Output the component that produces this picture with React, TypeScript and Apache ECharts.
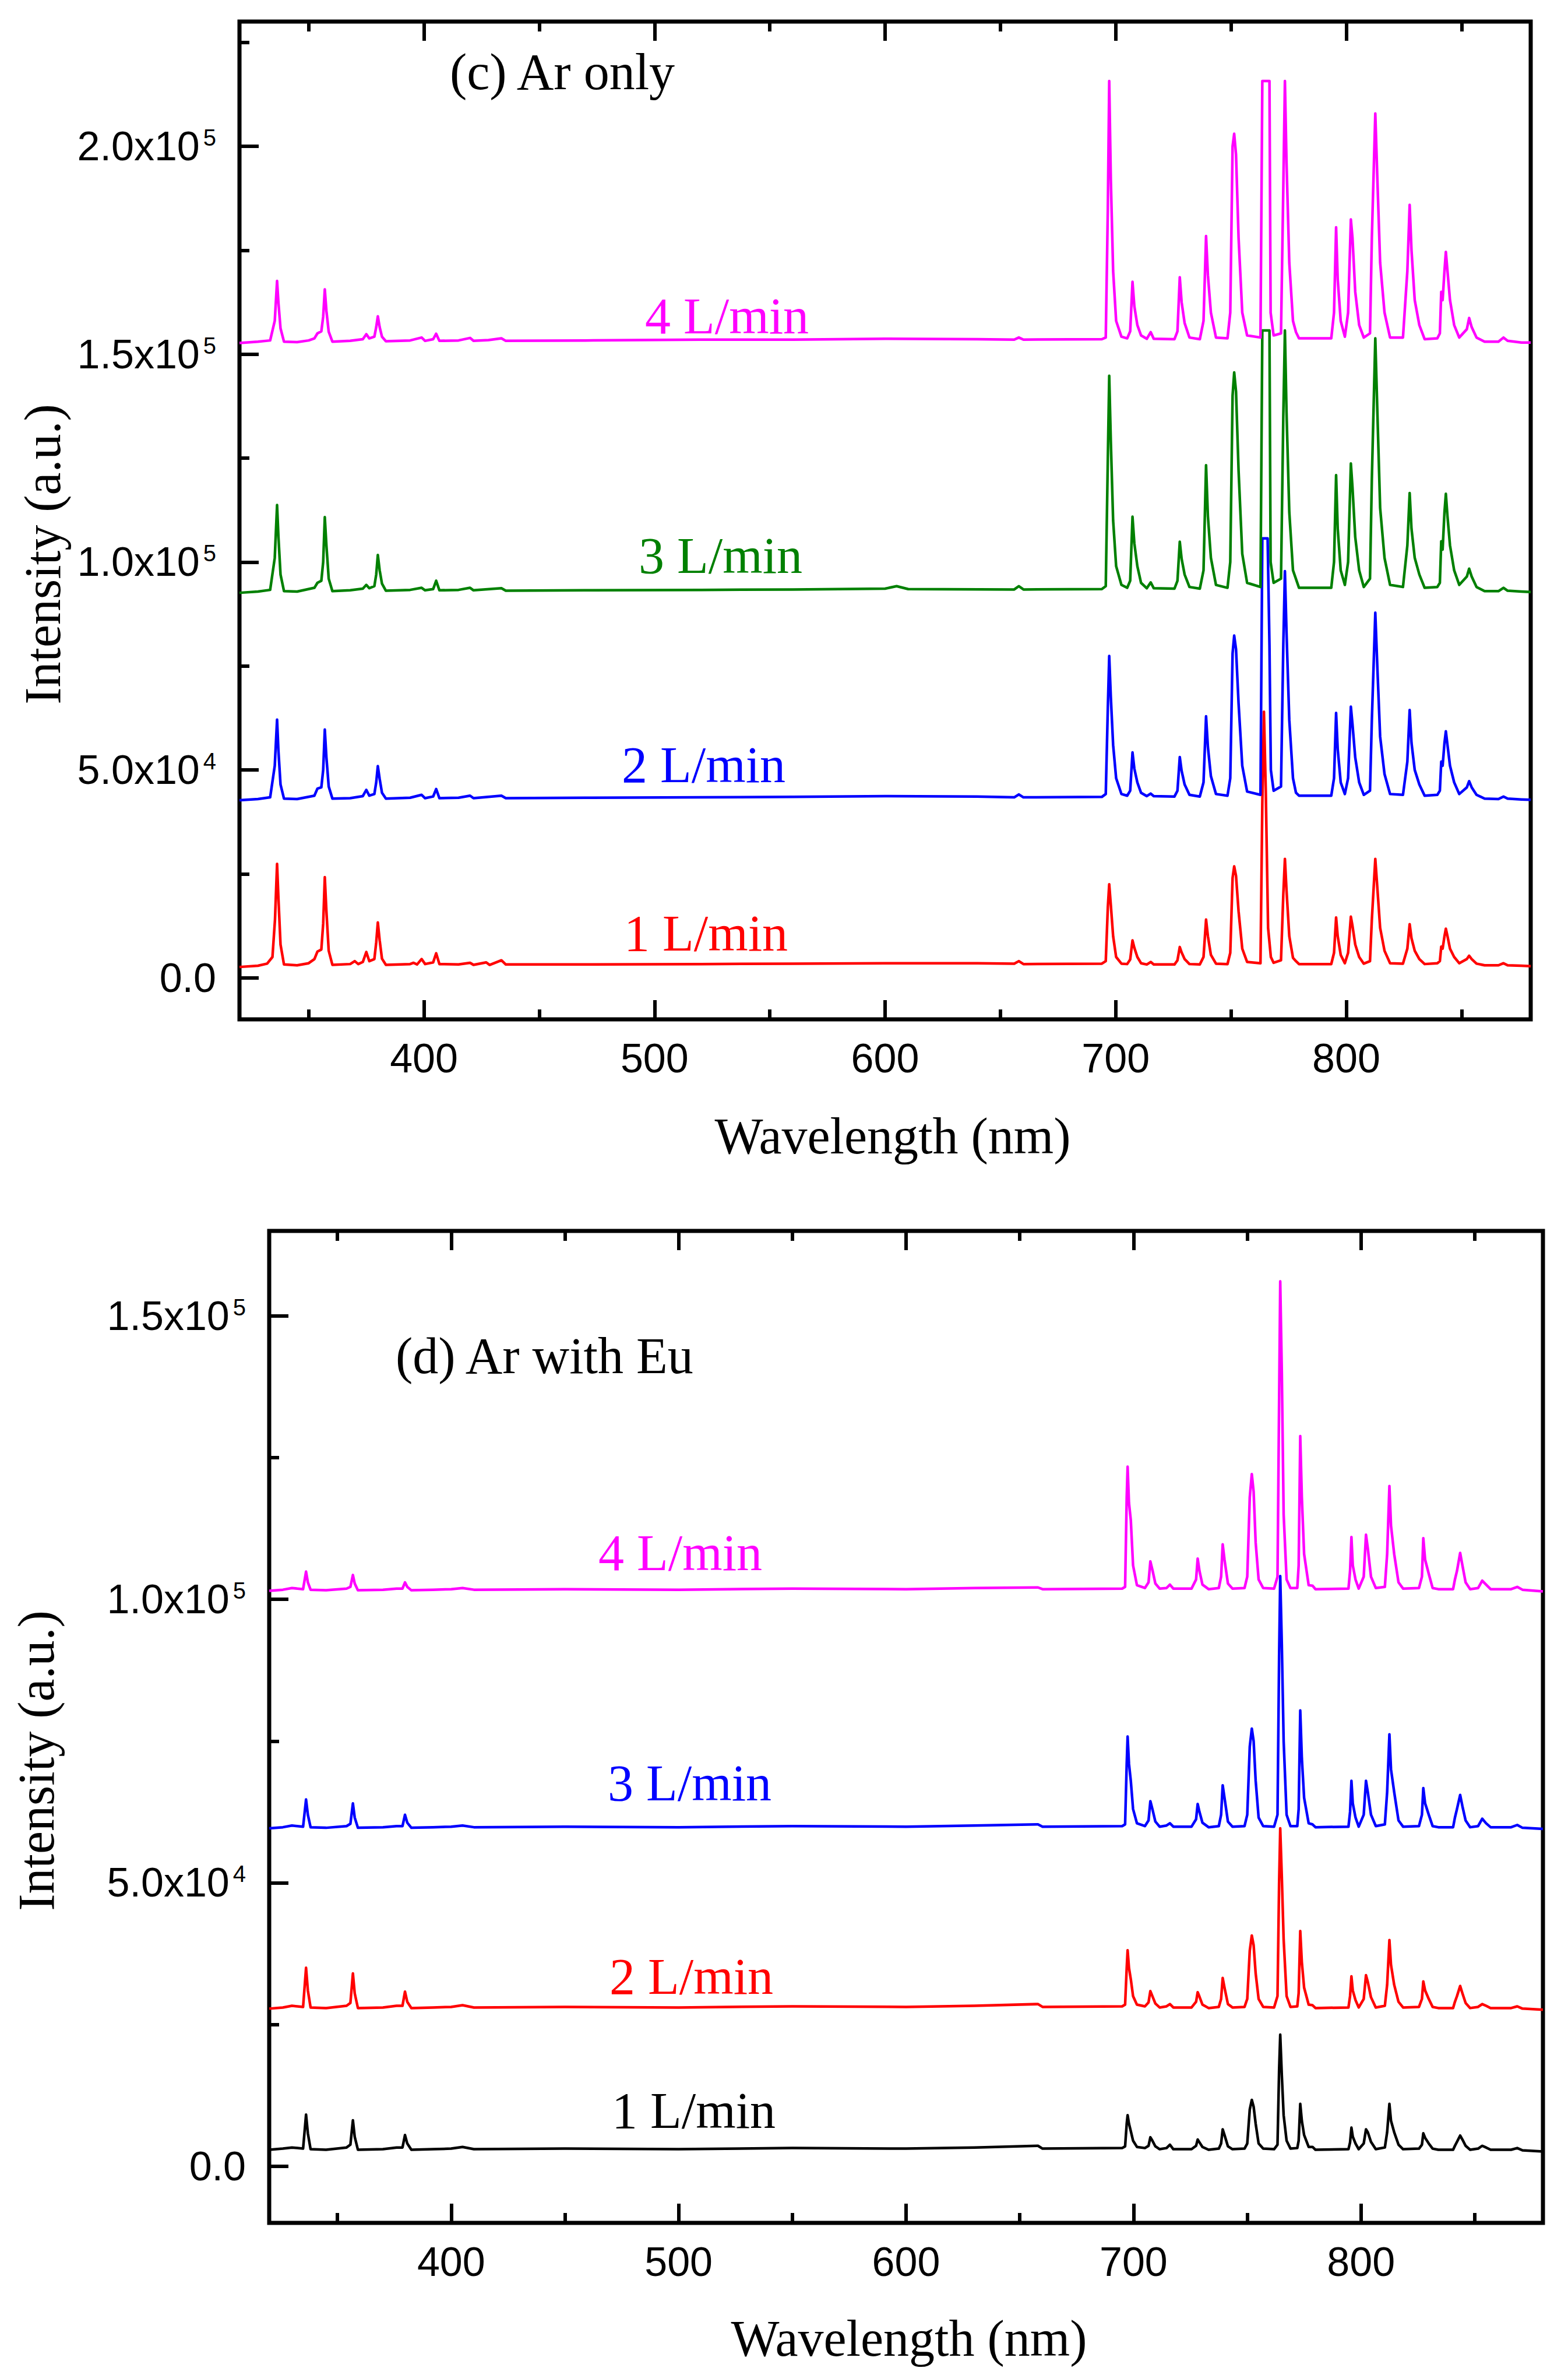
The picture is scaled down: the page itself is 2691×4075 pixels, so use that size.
import { useEffect, useRef } from "react";
import * as echarts from "echarts";

const SANS = "Liberation Sans";
const SERIF = "Liberation Serif";

const xMajorTicks = [400, 500, 600, 700, 800];
const xMinorTicks = [350, 400, 450, 500, 550, 600, 650, 700, 750, 800, 850];
const arOnlyYMajor = [0, 50000, 100000, 150000, 200000];
const arOnlyYMinor = [0, 25000, 50000, 75000, 100000, 125000, 150000, 175000, 200000, 225000];
const arEuYMajor = [0, 50000, 100000, 150000];
const arEuYMinor = [0, 25000, 50000, 75000, 100000, 125000, 150000];

// (c) Ar only — [wavelength nm, intensity]
const arOnly4 = [
  [320, 152700], [328, 153000], [333.3, 153300], [335.3, 158000], [336.3, 167600], [336.9, 162300], [337.8, 156200], [339.3, 153000],
  [345, 152900], [350, 153300], [352.5, 153800], [353.8, 155000], [355.5, 155500], [356.3, 159000], [357, 165600], [357.7, 160400],
  [358.7, 155400], [360.3, 153000], [368, 153200], [373.5, 153600], [375, 154800], [376.3, 153800], [378.5, 154200], [379.3, 156500],
  [380, 159100], [380.8, 156500], [381.8, 154200], [383.5, 153100], [394, 153300], [399, 154000], [400.5, 153200],
  [404, 153600], [405.3, 154900], [406.7, 153200], [415, 153300], [420, 153900], [421.5, 153200], [428, 153400],
  [433.6, 153800], [435.5, 153200], [470, 153300], [520, 153500], [560, 153500], [600, 153700], [640, 153600],
  [656, 153500], [658, 154000], [660, 153500], [694, 153600],
  [695.7, 154000], [696.6, 185000], [697.2, 215700], [697.9, 192000], [698.9, 170000], [700.2, 158000], [702.5, 154200], [705, 153800],
  [706.3, 155500], [707.3, 167400], [708.1, 161500], [709.4, 157000], [711, 154500], [713.5, 153700], [715.2, 155300], [716.5, 153700], [725.5, 153600],
  [726.8, 155500], [727.8, 168500], [728.6, 162500], [729.9, 157500], [732, 154000], [736.5, 153600],
  [738.1, 158000], [739.2, 178400], [740, 169000], [741.3, 160000], [743.5, 154000], [748.5, 153800],
  [749.7, 160000], [750.7, 200000], [751.4, 203000], [752.2, 198000], [753.3, 178000], [754.9, 160000], [757, 154500], [762.8, 154000],
  [763.6, 215700], [766.7, 215700], [767.2, 160000], [768.5, 154500], [771.7, 155000],
  [772.7, 190000], [773.4, 215700], [774.1, 196000], [775.3, 172000], [776.9, 158000], [778.2, 155300], [779.5, 153800], [793.5, 153800],
  [794.7, 160000], [795.6, 180500], [796.3, 168000], [797.6, 158000], [799.4, 154200],
  [800.8, 160000], [802, 182400], [802.7, 178000], [803.9, 165000], [805.6, 157000], [807.6, 154000], [810.3, 155000],
  [811.1, 178000], [812.6, 207900], [813.5, 192000], [814.7, 172000], [816.6, 160000], [819, 154000], [824.6, 154000],
  [826.5, 170000], [827.5, 185900], [828.3, 175000], [829.7, 163000], [831.7, 157000], [834, 153600], [839.5, 153800],
  [840.6, 155000], [841.2, 165000], [841.8, 163000], [842.6, 170000], [843.2, 174600], [843.9, 170000], [845, 163000], [846.8, 157000], [849, 154000],
  [852.3, 156000], [853.3, 158700], [854.4, 156500], [856.5, 154000], [860, 153000], [866, 153000], [868.2, 154000], [870, 153200], [876, 152800], [880, 152800],
];

const arOnly3 = [
  [320, 92600], [328, 92900], [333.3, 93300], [335.3, 101000], [336.3, 113700], [336.9, 106000], [337.8, 97000], [339.3, 93000],
  [345, 92900], [352.5, 93800], [353.8, 95000], [355.5, 95500], [356.3, 100000], [357, 110800], [357.7, 104000], [358.7, 96000],
  [360.3, 93000], [368, 93200], [373.5, 93600], [375, 94500], [376.3, 93700], [378.5, 94200], [379.3, 97000], [380, 101700],
  [380.8, 98000], [381.8, 94800], [383.5, 93100], [394, 93300], [399, 93800], [400.5, 93200], [404, 93500],
  [405.3, 95500], [406.7, 93200], [415, 93300], [420, 93800], [421.5, 93200], [433.6, 93700], [435.5, 93100],
  [470, 93200], [520, 93300], [560, 93400], [600, 93600], [605, 94200], [610, 93500], [656, 93400], [658, 94200],
  [660, 93400], [694, 93500],
  [695.7, 94200], [696.6, 125000], [697.2, 144800], [697.9, 129000], [698.9, 110000], [700.2, 99000], [702.5, 94500], [705, 93800],
  [706.3, 95500], [707.3, 110900], [708.1, 104500], [709.4, 99000], [711, 95000], [713.5, 93700], [715.2, 95100], [716.5, 93700], [725.5, 93600],
  [726.8, 95500], [727.8, 104900], [728.6, 100800], [729.9, 97000], [732, 94000], [736.5, 93600],
  [738.1, 98000], [739.2, 123300], [740, 111000], [741.3, 101000], [743.5, 94500], [748.5, 93800],
  [749.7, 100000], [750.7, 140000], [751.4, 145600], [752.2, 141000], [753.3, 122000], [754.9, 102000], [757, 95000], [762.8, 94000],
  [763.6, 155700], [766.7, 155700], [767.2, 100000], [768.5, 95000], [771.7, 96000],
  [772.7, 135000], [773.4, 155700], [774.1, 136000], [775.3, 112000], [776.9, 98000], [778.2, 95900], [779.5, 93800], [793.5, 93800],
  [794.7, 100000], [795.6, 120900], [796.3, 108000], [797.6, 98000], [799.4, 94500],
  [800.8, 100000], [802, 123700], [802.7, 118000], [803.9, 106000], [805.6, 98000], [807.6, 94000], [810.3, 96000],
  [811.1, 120000], [812.6, 153800], [813.5, 136000], [814.7, 113000], [816.6, 101000], [819, 94500], [824.6, 94000],
  [826.5, 104000], [827.5, 116600], [828.3, 108000], [829.7, 101000], [831.7, 97000], [834, 93800], [839.5, 94000],
  [840.6, 95000], [841.2, 105000], [841.8, 103000], [842.6, 112000], [843.2, 116400], [843.9, 111000], [845, 104000], [846.8, 98000], [849, 94500],
  [852.3, 96500], [853.3, 98400], [854.4, 96500], [856.5, 94000], [860, 93000], [866, 93000], [868.2, 93800], [870, 93100], [876, 92900], [880, 92800],
];

const arOnly2 = [
  [320, 42700], [328, 43000], [333.3, 43400], [335.3, 51000], [336.3, 62100], [336.9, 54500], [337.8, 46500], [339.3, 43100],
  [345, 43000], [352.5, 43800], [353.8, 45500], [355.5, 45800], [356.3, 50000], [357, 59700], [357.7, 53000], [358.7, 46000],
  [360.3, 43100], [368, 43200], [373.5, 43700], [375, 45200], [376.3, 43800], [378.5, 44200], [379.3, 47000], [380, 50900],
  [380.8, 47800], [381.8, 44500], [383.5, 43100], [394, 43300], [399, 44000], [400.5, 43200], [404, 43600],
  [405.3, 45400], [406.7, 43200], [415, 43300], [420, 43800], [421.5, 43200], [433.6, 43800], [435.5, 43200],
  [470, 43300], [520, 43400], [560, 43500], [600, 43700], [640, 43600], [656, 43400], [658, 44100], [660, 43400], [694, 43500],
  [695.7, 44200], [696.6, 65000], [697.2, 77400], [697.9, 67500], [698.9, 56000], [700.2, 48000], [702.5, 44200], [705, 43800],
  [706.3, 45000], [707.3, 54200], [708.1, 50300], [709.4, 47000], [711, 44500], [713.5, 43700], [715.2, 44300], [716.5, 43700], [725.5, 43600],
  [726.8, 45000], [727.8, 53100], [728.6, 49800], [729.9, 46500], [732, 44000], [736.5, 43600],
  [738.1, 47000], [739.2, 62900], [740, 55500], [741.3, 48500], [743.5, 44200], [748.5, 43800],
  [749.7, 48000], [750.7, 78000], [751.4, 82300], [752.2, 79000], [753.3, 66000], [754.9, 51000], [757, 44800], [762.8, 44000],
  [763.6, 105700], [765.9, 105700], [766.7, 80000], [767.3, 50000], [768.5, 45000], [771.7, 46000],
  [772.7, 80000], [773.4, 97800], [774.1, 83000], [775.3, 62000], [776.9, 48000], [778.2, 44500], [779.5, 43800], [793.5, 43800],
  [794.7, 48000], [795.6, 63700], [796.3, 55000], [797.6, 47000], [799.4, 44200],
  [800.8, 48000], [802, 65200], [802.7, 61000], [803.9, 53000], [805.6, 47000], [807.6, 44000], [810.3, 45000],
  [811.1, 62000], [812.6, 87800], [813.5, 74500], [814.7, 58000], [816.6, 49000], [819, 44200], [824.6, 44000],
  [826.5, 52000], [827.5, 64400], [828.3, 56500], [829.7, 50000], [831.7, 46500], [834, 43800], [839.5, 44000],
  [840.6, 45000], [841.2, 52000], [841.8, 51000], [842.6, 56500], [843.2, 59300], [843.9, 56000], [845, 51000], [846.8, 47000], [849, 44200],
  [852.3, 45800], [853.3, 47300], [854.4, 45800], [856.5, 44000], [860, 43100], [866, 43000], [868.2, 43600], [870, 43100], [876, 42900], [880, 42800],
];

const arOnly1 = [
  [320, 2600], [328, 2900], [332, 3400], [334.3, 5000], [335.4, 14000], [336.3, 27400], [336.9, 19000], [337.8, 8000], [339.3, 3200], [345, 3000],
  [350, 3500], [352.5, 4500], [353.8, 6300], [355.5, 6800], [356.3, 13000], [357, 24200], [357.7, 16000], [358.7, 6500], [360.3, 3100],
  [368, 3300], [370, 4000], [371.5, 3300], [373.5, 3800], [375, 6200], [376.3, 4000], [378.5, 4500], [379.3, 8500], [380, 13300],
  [380.8, 9000], [381.8, 4600], [383.5, 3100], [394, 3300], [395.5, 3600], [397, 3200], [399, 4500], [400.5, 3300],
  [404, 3700], [405.3, 5900], [406.7, 3300], [415, 3200], [420, 3600], [421.5, 3100], [427, 3700], [428.5, 3100],
  [433.6, 4200], [435.5, 3200], [470, 3200], [520, 3300], [560, 3400], [600, 3500], [640, 3500], [656, 3400],
  [658, 4000], [660, 3300], [694, 3400],
  [695.7, 4000], [696.6, 17000], [697.2, 22500], [697.9, 17500], [698.9, 10000], [700.2, 5000], [702.5, 3400], [705, 3300],
  [706.3, 4400], [707.3, 9000], [708.1, 7200], [709.4, 5000], [711, 3500], [713.5, 3200], [715.2, 3800], [716.5, 3200], [725.5, 3200],
  [726.8, 4200], [727.8, 7400], [728.6, 6100], [729.9, 4500], [732, 3300], [736.5, 3200],
  [738.1, 5000], [739.2, 14000], [740, 10000], [741.3, 5500], [743.5, 3400], [748.5, 3300],
  [749.7, 6000], [750.7, 24000], [751.4, 26800], [752.2, 24500], [753.3, 16000], [754.9, 7000], [757, 3800], [762.8, 3500],
  [763.6, 42000], [764.3, 64000], [765.1, 45000], [766.1, 12000], [767.3, 5000], [768.5, 3600], [771.7, 4200],
  [772.7, 20000], [773.4, 28600], [774.1, 21000], [775.3, 10000], [776.9, 4800], [778.2, 4000], [779.5, 3300], [793.5, 3300],
  [794.7, 6000], [795.6, 14500], [796.3, 10000], [797.6, 5500], [799.4, 3500],
  [800.8, 6000], [802, 14700], [802.7, 12500], [803.9, 8000], [805.6, 5000], [807.6, 3400], [810.3, 4000],
  [811.1, 14000], [812.6, 28600], [813.5, 21500], [814.7, 12000], [816.6, 6500], [819, 3500], [824.6, 3400],
  [826.5, 7000], [827.5, 12900], [828.3, 9500], [829.7, 6500], [831.7, 4500], [834, 3300], [839.5, 3500],
  [840.6, 4000], [841.2, 7500], [841.8, 7000], [842.6, 10000], [843.2, 11800], [843.9, 10000], [845, 7000], [846.8, 5000], [849, 3500],
  [852.3, 4500], [853.3, 5300], [854.4, 4500], [856.5, 3400], [860, 3000], [866, 3000], [868.2, 3500], [870, 3000], [876, 2900], [880, 2800],
];

// (d) Ar with Eu
const arEu4 = [
  [320, 101500], [326, 101700], [330, 102000], [334.9, 101800], [336.2, 104900], [337, 103000], [338.2, 101700],
  [345, 101600], [354, 101900], [355.7, 102200], [356.8, 104300], [357.6, 102800], [359, 101600], [370, 101700],
  [376, 101900], [378.6, 101900], [379.7, 103000], [380.7, 102200], [382.5, 101600], [392, 101700], [400, 101800],
  [405, 102000], [410, 101700], [450, 101800], [500, 101700], [550, 101900], [600, 101800], [630, 102000],
  [658, 102100], [660, 101800], [695, 101900],
  [696.3, 102200], [697, 118000], [697.4, 123400], [698, 117000], [698.8, 114000], [699.8, 106000], [701.5, 102500], [705, 102000],
  [706.6, 103000], [707.4, 106700], [708.3, 105200], [709.6, 102800], [711.5, 101900], [714.5, 102000], [716, 102600], [717.5, 101900], [725.5, 101900],
  [727.5, 103500], [728.2, 107200], [729, 105000], [730.3, 102600], [733, 101800], [737.5, 102000],
  [738.5, 104000], [739.2, 109700], [740, 107000], [741.5, 102800], [743.5, 101900], [748.8, 102000],
  [750, 104000], [751.1, 118000], [752, 122100], [752.8, 119000], [753.7, 110000], [755, 103500], [757, 102000], [761.8, 101900],
  [763.3, 104000], [764, 135000], [764.5, 156100], [765.2, 140000], [766, 115000], [767.3, 103500], [769, 102000], [772, 102000],
  [772.6, 106000], [773.3, 128800], [774, 118000], [775, 108000], [777, 102500], [778.7, 102400], [780, 101800], [794.5, 101900],
  [795.2, 105000], [795.8, 111000], [796.4, 106000], [797.6, 103500], [799, 101900],
  [801.2, 104000], [802.2, 111400], [803, 109000], [804.4, 104000], [806.5, 102000], [810.5, 102200],
  [811.5, 108000], [812.5, 120000], [813.2, 113000], [814.6, 108000], [816.5, 103000], [818.5, 101900], [825.5, 102000],
  [826.8, 104000], [827.4, 110800], [828.2, 107000], [829.8, 104500], [831.5, 102000], [834, 101800], [840.5, 101800],
  [841.3, 103500], [842.2, 105000], [843.6, 108200], [844.6, 106000], [846, 103000], [848, 101800], [851.5, 102000],
  [853.3, 103300], [855, 102600], [857, 101800], [866, 101800], [868.7, 102200], [871, 101700], [880, 101400],
];

const arEu3 = [
  [320, 59600], [326, 59800], [330, 60100], [334.9, 59900], [336.2, 64700], [337, 62000], [338.2, 59800],
  [345, 59700], [354, 60000], [355.7, 60400], [356.8, 64000], [357.6, 61500], [359, 59700], [370, 59800],
  [376, 60000], [378.6, 60000], [379.7, 62000], [380.7, 60600], [382.5, 59700], [392, 59800], [400, 59900],
  [405, 60100], [410, 59800], [450, 59900], [500, 59800], [550, 60000], [600, 59900], [630, 60100],
  [658, 60300], [660, 59900], [695, 60000],
  [696.3, 60300], [697, 71000], [697.4, 75800], [698, 71000], [698.8, 68000], [699.8, 63000], [701.5, 60500], [705, 60000],
  [706.6, 61000], [707.4, 64400], [708.3, 63000], [709.6, 60800], [711.5, 59900], [714.5, 60100], [716, 60500], [717.5, 59900], [725.5, 59900],
  [727.5, 61200], [728.2, 63900], [729, 62500], [730.3, 60600], [733, 59800], [737.5, 60000],
  [738.5, 62000], [739.2, 67200], [740, 65000], [741.5, 60800], [743.5, 59900], [748.8, 60000],
  [750, 62000], [751.1, 74000], [752, 77200], [752.8, 75000], [753.7, 68000], [755, 61500], [757, 60000], [761.8, 59900],
  [763.3, 62000], [764, 90000], [764.5, 104100], [765.2, 92000], [766, 75000], [767.3, 62000], [769, 60000], [772, 60000],
  [772.6, 63000], [773.3, 80400], [774, 72000], [775, 65000], [777, 60500], [778.7, 60300], [780, 59800], [794.5, 59900],
  [795.2, 62500], [795.8, 68000], [796.4, 64000], [797.6, 61500], [799, 59900],
  [801.2, 62000], [802.2, 68000], [803, 66000], [804.4, 62000], [806.5, 60000], [810.5, 60300],
  [811.5, 66000], [812.5, 76200], [813.2, 70000], [814.6, 66000], [816.5, 61000], [818.5, 59900], [825.5, 60000],
  [826.8, 62000], [827.4, 66700], [828.2, 64000], [829.8, 62000], [831.5, 60000], [834, 59800], [840.5, 59800],
  [841.3, 61500], [842.2, 63000], [843.6, 65500], [844.6, 63500], [846, 61000], [848, 59800], [851.5, 60000],
  [853.3, 61300], [855, 60500], [857, 59800], [866, 59800], [868.7, 60200], [871, 59700], [880, 59500],
];

const arEu2 = [
  [320, 27800], [326, 28000], [330, 28300], [334.9, 28100], [336.2, 35000], [337, 31000], [338.2, 28000],
  [345, 27900], [354, 28300], [355.7, 28800], [356.8, 34000], [357.6, 30500], [359, 27900], [370, 28000],
  [376, 28300], [378.6, 28300], [379.7, 30800], [380.7, 29000], [382.5, 27900], [392, 28000], [400, 28100],
  [405, 28400], [410, 28000], [450, 28100], [500, 28000], [550, 28200], [600, 28100], [630, 28300],
  [658, 28600], [660, 28100], [695, 28200],
  [696.3, 28500], [697, 35000], [697.4, 38100], [698, 35000], [698.8, 33000], [699.8, 30000], [701.5, 28500], [705, 28200],
  [706.6, 28900], [707.4, 30900], [708.3, 30000], [709.6, 28700], [711.5, 28000], [714.5, 28200], [716, 28600], [717.5, 28000], [725.5, 28000],
  [727.5, 29000], [728.2, 30700], [729, 29900], [730.3, 28500], [733, 27900], [737.5, 28100],
  [738.5, 29500], [739.2, 33200], [740, 31500], [741.5, 28600], [743.5, 28000], [748.8, 28100],
  [750, 29500], [751.1, 38000], [752, 40700], [752.8, 39000], [753.7, 34000], [755, 29500], [757, 28100], [761.8, 28000],
  [763.3, 30000], [764, 50000], [764.5, 59600], [765.2, 51000], [766, 40000], [767.3, 30000], [769, 28100], [772, 28200],
  [772.6, 30500], [773.3, 41500], [774, 36000], [775, 31500], [777, 28500], [778.7, 28400], [780, 27900], [794.5, 28000],
  [795.2, 30000], [795.8, 33500], [796.4, 31000], [797.6, 29300], [799, 28000],
  [801.2, 29500], [802.2, 33700], [803, 32500], [804.4, 29800], [806.5, 28000], [810.5, 28300],
  [811.5, 32000], [812.5, 39900], [813.2, 35500], [814.6, 32000], [816.5, 29000], [818.5, 28000], [825.5, 28100],
  [826.8, 29500], [827.4, 32600], [828.2, 31000], [829.8, 29500], [831.5, 28100], [834, 27900], [840.5, 27900],
  [841.3, 29000], [842.2, 30000], [843.6, 31800], [844.6, 30500], [846, 28800], [848, 27900], [851.5, 28100],
  [853.3, 28600], [855, 28300], [857, 27900], [866, 27900], [868.7, 28200], [871, 27800], [880, 27600],
];

const arEu1 = [
  [320, 2900], [326, 3100], [330, 3300], [334.9, 3100], [336.2, 9100], [337, 5800], [338.2, 3000],
  [345, 2900], [354, 3300], [355.7, 3800], [356.8, 8100], [357.6, 5200], [359, 2900], [370, 3000],
  [376, 3300], [378.6, 3300], [379.7, 5500], [380.7, 4000], [382.5, 2900], [392, 3000], [400, 3100],
  [405, 3400], [410, 3000], [450, 3100], [500, 3000], [550, 3200], [600, 3100], [630, 3300],
  [658, 3600], [660, 3100], [695, 3200],
  [696.3, 3500], [697, 7500], [697.4, 9000], [698, 7500], [698.8, 6200], [699.8, 4500], [701.5, 3400], [705, 3200],
  [706.6, 3600], [707.4, 5100], [708.3, 4500], [709.6, 3500], [711.5, 3000], [714.5, 3200], [716, 3800], [717.5, 3000], [725.5, 3000],
  [727.5, 3600], [728.2, 4700], [729, 4200], [730.3, 3400], [733, 2900], [737.5, 3100],
  [738.5, 4000], [739.2, 6500], [740, 5500], [741.5, 3500], [743.5, 3000], [748.8, 3100],
  [750, 4000], [751.1, 10000], [752, 11700], [752.8, 10500], [753.7, 7500], [755, 4000], [757, 3100], [761.8, 3000],
  [763.3, 3800], [764, 17000], [764.5, 23200], [765.2, 16000], [766, 9000], [767.3, 4500], [769, 3100], [772, 3200],
  [772.6, 4500], [773.3, 11000], [774, 8000], [775, 5500], [777, 3400], [778.7, 3400], [780, 2900], [794.5, 3000],
  [795.2, 4200], [795.8, 6800], [796.4, 5200], [797.6, 4000], [799, 3000],
  [801.2, 4000], [802.2, 6500], [803, 6000], [804.4, 4300], [806.5, 3000], [810.5, 3300],
  [811.5, 6000], [812.5, 11000], [813.2, 8000], [814.6, 6000], [816.5, 3800], [818.5, 3000], [825.5, 3100],
  [826.8, 3800], [827.4, 5800], [828.2, 5000], [829.8, 4000], [831.5, 3100], [834, 2900], [840.5, 2900],
  [841.3, 3600], [842.2, 4300], [843.6, 5400], [844.6, 4700], [846, 3600], [848, 2900], [851.5, 3100],
  [853.3, 3600], [855, 3300], [857, 2900], [866, 2900], [868.7, 3200], [871, 2800], [880, 2600],
];

const seriesLabels = ["1 L/min", "2 L/min", "3 L/min", "4 L/min"];

function sciLabel(v: number) {
  if (v === 0) return "{m|0.0}";
  const e = Math.floor(Math.log10(v) + 1e-9);
  const m = (v / Math.pow(10, e)).toFixed(1);
  return `{m|${m}x10}{s|${e}}`;
}

const tickStyle = { color: "#000", width: 6 };

function xAxes(gridIndex: number) {
  const base = {
    type: "value",
    gridIndex,
    min: 320,
    max: 880,
    splitLine: { show: false },
    axisLine: { show: false, onZero: false },
  };
  const major = { inside: true, length: 33, customValues: xMajorTicks, lineStyle: tickStyle };
  const minor = { inside: true, length: 17, customValues: xMinorTicks, lineStyle: tickStyle };
  return [
    {
      ...base,
      position: "bottom",
      axisTick: major,
      axisLabel: { customValues: xMajorTicks, margin: 32, fontSize: 70, fontFamily: SANS, color: "#000" },
    },
    { ...base, position: "bottom", axisTick: minor, axisLabel: { show: false } },
    { ...base, position: "top", axisTick: major, axisLabel: { show: false } },
    { ...base, position: "top", axisTick: minor, axisLabel: { show: false } },
  ];
}

function yAxes(gridIndex: number, max: number, majorVals: number[], minorVals: number[]) {
  const base = {
    type: "value",
    gridIndex,
    min: -10000,
    max,
    position: "left",
    splitLine: { show: false },
    axisLine: { show: false, onZero: false },
  };
  return [
    {
      ...base,
      axisTick: { inside: true, length: 33, customValues: majorVals, lineStyle: tickStyle },
      axisLabel: {
        customValues: majorVals,
        margin: 40,
        formatter: sciLabel,
        rich: {
          m: { fontSize: 70, fontFamily: SANS, color: "#000" },
          s: { fontSize: 40, fontFamily: SANS, color: "#000", verticalAlign: "top", lineHeight: 20, padding: [0, 0, 0, 6] },
        },
      },
    },
    {
      ...base,
      axisTick: { inside: true, length: 17, customValues: minorVals, lineStyle: tickStyle },
      axisLabel: { show: false },
    },
  ];
}

function line(name: string, data: number[][], color: string, xi: number, yi: number, width: number) {
  return {
    name,
    type: "line",
    data,
    xAxisIndex: xi,
    yAxisIndex: yi,
    showSymbol: false,
    symbol: "none",
    lineStyle: { color, width, join: "round" },
    itemStyle: { color },
  };
}

function text(t: string, x: number, y: number, color: string, align = "left", rotation = 0) {
  return {
    type: "text",
    x,
    y,
    rotation,
    z: 100,
    style: {
      text: t,
      fill: color,
      font: `88px "${SERIF}"`,
      align,
      verticalAlign: "middle",
      textAlign: align,
      textVerticalAlign: "middle",
    },
  };
}

function buildOption(): echarts.EChartsOption {
  return {
    animation: false,
    backgroundColor: "#fff",
    grid: [
      { left: 411, top: 37, width: 2216, height: 1712, show: true, borderColor: "#000", borderWidth: 7, containLabel: false },
      { left: 462, top: 2112, width: 2186, height: 1702, show: true, borderColor: "#000", borderWidth: 7, containLabel: false },
    ],
    xAxis: [...xAxes(0), ...xAxes(1)] as any,
    yAxis: [
      ...yAxes(0, 230000, arOnlyYMajor, arOnlyYMinor),
      ...yAxes(1, 165000, arEuYMajor, arEuYMinor),
    ] as any,
    series: [
      line(seriesLabels[0], arOnly1, "#FF0000", 0, 0, 4.5),
      line(seriesLabels[1], arOnly2, "#0000FF", 0, 0, 4.5),
      line(seriesLabels[2], arOnly3, "#008000", 0, 0, 4.5),
      line(seriesLabels[3], arOnly4, "#FF00FF", 0, 0, 4.5),
      line(seriesLabels[0], arEu1, "#000000", 4, 2, 4.5),
      line(seriesLabels[1], arEu2, "#FF0000", 4, 2, 4.5),
      line(seriesLabels[2], arEu3, "#0000FF", 4, 2, 4.5),
      line(seriesLabels[3], arEu4, "#FF00FF", 4, 2, 4.5),
    ] as any,
    graphic: [
      text("(c) Ar only", 772, 123, "#000"),
      text(seriesLabels[3], 1107, 542, "#FF00FF"),
      text(seriesLabels[2], 1096, 953, "#008000"),
      text(seriesLabels[1], 1067, 1312, "#0000FF"),
      text(seriesLabels[0], 1071, 1601, "#FF0000"),
      text("Intensity (a.u.)", 73, 951, "#000", "center", Math.PI / 2),
      text("Wavelength (nm)", 1532, 1949, "#000", "center"),
      text("(d) Ar with Eu", 679, 2326, "#000"),
      text(seriesLabels[3], 1027, 2664, "#FF00FF"),
      text(seriesLabels[2], 1043, 3059, "#0000FF"),
      text(seriesLabels[1], 1046, 3391, "#FF0000"),
      text(seriesLabels[0], 1050, 3621, "#000000"),
      text("Intensity (a.u.)", 62, 3021, "#000", "center", Math.PI / 2),
      text("Wavelength (nm)", 1560, 4012, "#000", "center"),
    ] as any,
  };
}

export default function App() {
  const chartRef = useRef<HTMLDivElement>(null);

  useEffect(() => {
    if (!chartRef.current) return;
    const chart = echarts.init(chartRef.current, undefined, { renderer: "svg" });
    chart.setOption(buildOption());
    return () => chart.dispose();
  }, []);

  return (
    <div
      ref={chartRef}
      style={{ position: "absolute", left: 0, top: 0, width: 2691, height: 4075, background: "#fff" }}
    />
  );
}
